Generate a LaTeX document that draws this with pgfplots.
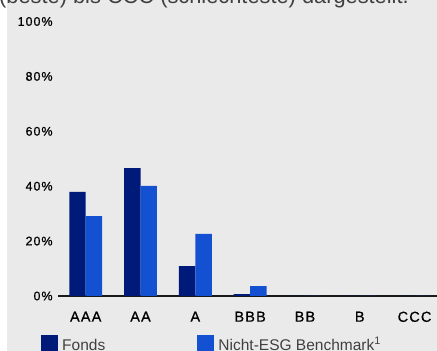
\documentclass[border=0pt]{standalone}
\usepackage{pgfplots}
\pgfplotsset{compat=1.18}
\usepackage{fontspec}
\setmainfont{Liberation Sans}
\newfontfamily\tickfont[LetterSpace=8,FakeBold=0.7]{Liberation Sans}
\definecolor{bg}{HTML}{EAEAEA}
\definecolor{fund}{HTML}{001A7A}
\definecolor{bench}{HTML}{1450D2}
\definecolor{txt}{HTML}{404040}
\begin{document}
\begin{tikzpicture}[x=1pt,y=1pt]
\path[use as bounding box] (0,0) rectangle (437,351);
\clip (0,0) rectangle (437,351);
\fill[bg] (7,0) rectangle (437,351);
\node[anchor=base west, inner sep=0, text=txt, font=\fontsize{21.8}{26}\selectfont] at (-1,347) {(beste) bis CCC (schlechteste) dargestellt.};
\begin{axis}[
  at={(58.3pt,55pt)}, anchor=south west,
  scale only axis, width=378.7pt, height=274.5pt,
  xmin=-0.5, xmax=6.41, ymin=0, ymax=100,
  separate axis lines,
  axis x line*=bottom, axis y line*=left,
  x axis line style={draw=black!90, line width=1.6pt, -},
  y axis line style={draw=none},
  major tick length=0pt,
  xtick={0,1,2,3,4,5,6},
  xticklabels={AAA,AA,A,BBB,BB,B,CCC},
  ytick={0,20,40,60,80,100},
  yticklabels={0\%,20\%,40\%,60\%,80\%,100\%},
  x tick label style={font=\tickfont\fontsize{14.5}{16}\selectfont, inner sep=0pt, anchor=north, yshift=-15.5pt, text=black},
  y tick label style={font=\tickfont\fontsize{12.5}{15}\selectfont, inner sep=0pt, anchor=east, xshift=-5.5pt, text=black},
  legend columns=2,
  legend style={at={(-0.0457,-0.142)}, anchor=north west, draw=none, fill=none, inner sep=0pt,
    font=\fontsize{15.5}{18}\selectfont, text=txt,
    cells={anchor=base west},
    nodes={inner sep=0pt, anchor=base west},
    /tikz/every odd column/.append style={column sep=4.5pt},
    /tikz/every even column/.append style={column sep=10.3pt}},
  legend image code/.code={\fill[#1] (0pt,-1.5pt) rectangle (16.5pt,15pt);},
]
\addplot[ybar, bar width=0.3, bar shift=-0.15, fill=fund, draw=none] coordinates {(0,37.9) (1,46.6) (2,10.9) (3,0.7) (4,0) (5,0) (6,0)};
\addlegendentry{\makebox[125pt][l]{Fonds}}
\addplot[ybar, bar width=0.3, bar shift=0.15, fill=bench, draw=none] coordinates {(0,29.1) (1,40.1) (2,22.6) (3,3.6) (4,0) (5,0) (6,0)};
\addlegendentry{Nicht-ESG Benchmark\textsuperscript{1}}
\end{axis}
\end{tikzpicture}
\end{document}
